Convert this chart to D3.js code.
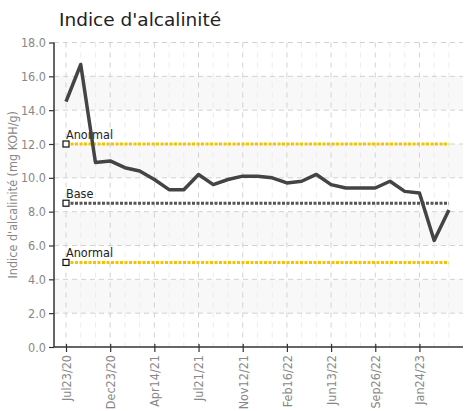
<!DOCTYPE html>
<html><head><meta charset="utf-8">
<script src="https://cdn.jsdelivr.net/npm/d3@7"></script>
<style>body{margin:0;background:#fff}svg{display:block}</style>
</head><body><svg id="c" width="469" height="411"></svg>
<script>
const title = "Indice d'alcalinité";
const yTitle = "Indice d'alcalinité (mg KOH/g)";
const values = [14.5,16.7,10.9,11.0,10.6,10.4,9.9,9.3,9.3,10.2,9.6,9.9,10.1,10.1,10.0,9.7,9.8,10.2,9.6,9.4,9.4,9.4,9.8,9.2,9.1,6.3,8.1];
const tickLabels = ["Jul23/20","Dec23/20","Apr14/21","Jul21/21","Nov12/21","Feb16/22","Jun13/22","Sep26/22","Jan24/23"];
const tickEvery = 3;
const yTicks = [0,2,4,6,8,10,12,14,16,18];
const thresholds = [{name:"Anormal", value:12, color:"#f5c400"},{name:"Base", value:8.5, color:"#555"},{name:"Anormal", value:5, color:"#f5c400"}];

const svg = d3.select("#c");
const L=54, R=463, T=42.5, B=347;
const x = d3.scaleLinear().domain([0, values.length-1]).range([66, 448.9]);
const y = d3.scaleLinear().domain([0,18]).range([B,T]);
const narrow = "'Liberation Sans Narrow','DejaVu Sans Condensed','Roboto',sans-serif";

// bands
for (let i=0;i<yTicks.length-1;i++){
  if ((yTicks.length-2-i)%2===1){
    svg.append("rect").attr("x",L).attr("width",R-L).attr("y",y(yTicks[i+1])).attr("height",y(yTicks[i])-y(yTicks[i+1])).attr("fill","#f8f8f8");
  }
}
// minor vertical grid
svg.append("g").selectAll("line").data(d3.range(values.length)).join("line")
 .attr("x1",d=>x(d)).attr("x2",d=>x(d)).attr("y1",T).attr("y2",B)
 .attr("stroke",d=>d%tickEvery===0?"#d2d2d2":"#ececec").attr("stroke-width",1).attr("stroke-dasharray","5,5");
// horizontal grid
svg.append("g").selectAll("line").data(yTicks.slice(1)).join("line")
 .attr("x1",L).attr("x2",R).attr("y1",d=>y(d)).attr("y2",d=>y(d))
 .attr("stroke","#d2d2d2").attr("stroke-dasharray","5,4");

// thresholds
thresholds.forEach(t=>{
  svg.append("line").attr("x1",x(0)).attr("x2",x(values.length-1)).attr("y1",y(t.value)).attr("y2",y(t.value))
    .attr("stroke",t.color).attr("stroke-width",3).attr("stroke-dasharray","3,1.5");
  svg.append("rect").attr("x",x(0)-3).attr("y",y(t.value)-3).attr("width",6).attr("height",6)
    .attr("fill","#fff").attr("stroke","#111").attr("stroke-width",1.2);
  svg.append("text").attr("x",x(0)).attr("y",y(t.value)-5).text(t.name)
    .attr("font-family",narrow).attr("font-size",12.5).attr("fill","#222");
});

// data line
svg.append("path").datum(values).attr("fill","none").attr("stroke","#444").attr("stroke-width",3.5)
 .attr("stroke-linejoin","round")
 .attr("d",d3.line().x((d,i)=>x(i)).y(d=>y(d)));

// axes
const ya = svg.append("g").attr("transform",`translate(${L},0)`)
 .call(d3.axisLeft(y).tickValues(yTicks).tickFormat(d3.format(".1f")).tickSize(5).tickPadding(3));
ya.select(".domain").attr("stroke","#333").attr("stroke-width",1.5).attr("d",`M0,${B}V${T}`);
ya.selectAll(".tick line").attr("stroke","#333").attr("stroke-width",1.2);
ya.selectAll("text").attr("font-family",narrow).attr("font-size",12.5).attr("fill","#888");

const xa = svg.append("g").attr("transform",`translate(0,${B})`)
 .call(d3.axisBottom(x).tickValues(d3.range(0,values.length,tickEvery)).tickFormat((d,i)=>tickLabels[i]).tickSize(5).tickSizeOuter(0));
xa.select(".domain").attr("stroke","#333").attr("stroke-width",1.5).attr("d",`M${L},0H${R}`);
xa.selectAll(".tick line").attr("stroke","#333").attr("stroke-width",1.2).attr("y1",-3);
xa.selectAll("text").attr("font-family",narrow).attr("font-size",12.5).attr("fill","#888")
 .attr("transform","rotate(-90)").attr("text-anchor","end").attr("x",-8).attr("y",0).attr("dy","0.35em");

// titles
svg.append("text").attr("x",59).attr("y",26).text(title)
 .attr("font-family","'DejaVu Sans',Verdana,sans-serif").attr("font-size",18.5).attr("fill","#222");
svg.append("text").attr("transform",`translate(17,${(T+B)/2}) rotate(-90)`).attr("text-anchor","middle").text(yTitle)
 .attr("font-family",narrow).attr("font-size",12.5).attr("fill","#888");
</script></body></html>
